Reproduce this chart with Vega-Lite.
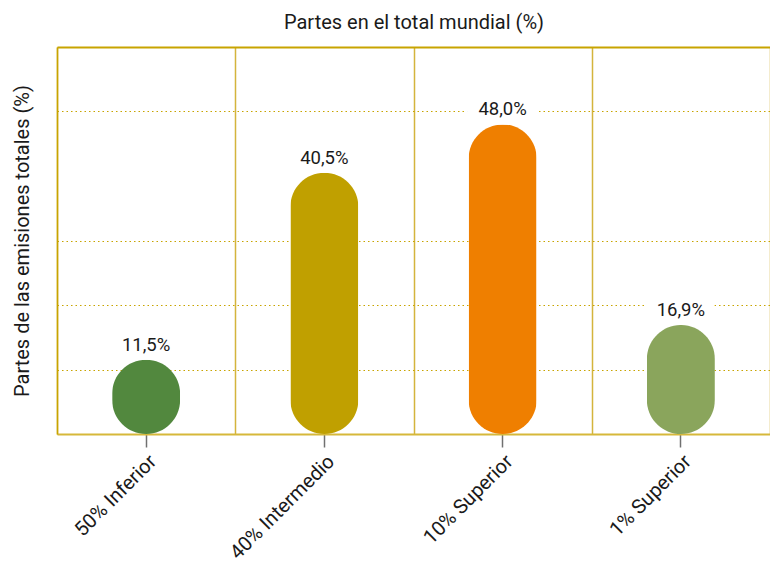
{
  "$schema": "https://vega.github.io/schema/vega-lite/v6.json",
  "width": 713,
  "height": 387,
  "autosize": {"type": "none"},
  "padding": {"left": 57, "top": 47, "right": 0, "bottom": 131},
  "config": {"font": "Roboto", "view": {"stroke": null}},
  "data": {"values": [
    {"grupo": "50% Inferior", "valor": 11.5, "etiqueta": "11,5%"},
    {"grupo": "40% Intermedio", "valor": 40.5, "etiqueta": "40,5%"},
    {"grupo": "10% Superior", "valor": 48.0, "etiqueta": "48,0%"},
    {"grupo": "1% Superior", "valor": 16.9, "etiqueta": "16,9%"}
  ]},
  "resolve": {"axis": {"x": "independent"}},
  "layer": [
    {
      "mark": {"type": "text", "fontSize": 18.5, "dy": -15, "baseline": "middle", "fill": "white", "stroke": "white", "strokeWidth": 24, "strokeJoin": "round"},
      "encoding": {
        "x": {"field": "grupo", "type": "nominal", "sort": null,
          "scale": {"paddingInner": 0, "paddingOuter": 0},
          "axis": {"orient": "top", "title": "Partes en el total mundial (%)", "titleFontSize": 20, "titleFontWeight": "normal",
            "titleColor": "#1a1a1a", "labels": false, "ticks": false, "domainColor": "#c8a400", "domainWidth": 2,
            "grid": true, "tickBand": "extent", "gridColor": "#d4b43c", "gridWidth": 1.5, "gridDash": [], "titlePadding": 15}},
        "y": {"field": "valor", "type": "quantitative", "scale": {"domain": [0, 60], "nice": false},
          "axis": {"title": "Partes de las emisiones totales (%)", "titleFontSize": 20, "titleFontWeight": "normal",
            "titleColor": "#1a1a1a", "labels": false, "ticks": false, "domainColor": "#c8a400", "domainWidth": 1.5,
            "grid": true, "values": [10, 20, 30, 50], "gridColor": "#c8a400", "gridDash": [1.5, 3], "gridWidth": 1.2,
            "titlePadding": 25}},
        "text": {"field": "etiqueta"}
      }
    },
    {
      "mark": {"type": "bar", "cornerRadius": 34, "size": 68},
      "encoding": {
        "x": {"field": "grupo", "type": "nominal", "sort": null,
          "axis": {"orient": "bottom", "title": null, "labelAngle": -45, "labelFontSize": 20, "labelColor": "#1a1a1a",
            "tickColor": "#707070", "tickSize": 13, "tickWidth": 1.5, "domainColor": "#d6b83a", "domainWidth": 2,
            "labelPadding": 4, "grid": false}},
        "y": {"field": "valor", "type": "quantitative"},
        "color": {"field": "grupo", "type": "nominal", "legend": null,
          "scale": {"domain": ["50% Inferior", "40% Intermedio", "10% Superior", "1% Superior"],
            "range": ["#52883e", "#c0a000", "#ef7f00", "#8aa55c"]}}
      }
    },
    {
      "mark": {"type": "text", "fontSize": 18.5, "dy": -15, "baseline": "middle", "color": "#1a1a1a"},
      "encoding": {
        "x": {"field": "grupo", "type": "nominal", "sort": null, "axis": null},
        "y": {"field": "valor", "type": "quantitative"},
        "text": {"field": "etiqueta"}
      }
    }
  ]
}
